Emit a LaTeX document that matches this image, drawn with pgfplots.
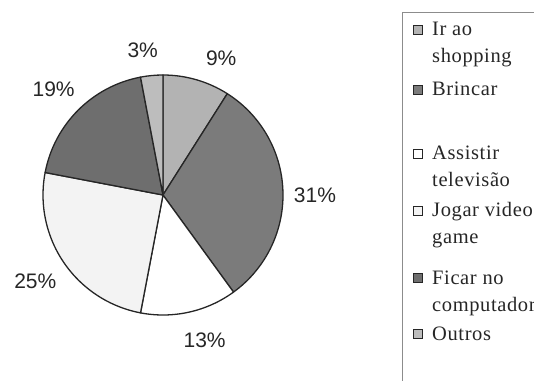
\documentclass[border=0pt]{standalone}
\usepackage{pgfplots}
\pgfplotsset{compat=1.18}
\usepackage{pgfplotstable}
\usepackage{fontspec}
\setmainfont{Liberation Serif}
\newfontfamily\pctfont{Liberation Sans}
\newfontfamily\keyfont[LetterSpace=3]{Liberation Serif}

\definecolor{shopfill}{HTML}{B3B3B3}
\definecolor{brincarfill}{HTML}{7B7B7B}
\definecolor{tvfill}{HTML}{FFFFFF}
\definecolor{gamefill}{HTML}{F3F3F3}
\definecolor{pcfill}{HTML}{6E6E6E}
\definecolor{outrosfill}{HTML}{BDBDBD}
\definecolor{edge}{HTML}{262626}

% share in percent, slice colour, label direction (deg) and distance (pt)
\pgfplotstableread{
share slicefill   labelangle labelradius
9     shopfill    67         149
31    brincarfill 0          152
13    tvfill      -74        151
25    gamefill    -146       154
19    pcfill      136        152
3     outrosfill  98         146
}\piedata

\begin{document}
\begin{tikzpicture}[x=1pt,y=1pt]
\useasboundingbox (0,0) rectangle (534,380);
\begin{axis}[at={(0,0)}, anchor=south west, scale only axis,
  x=1pt, y=1pt, xmin=-163, xmax=371, ymin=-185, ymax=195,
  hide axis, clip=false, disabledatascaling]
\pgfplotsextra{%
  \gdef\startangle{90}%
  \pgfplotstableforeachcolumnelement{share}\of\piedata\as\share{%
    \pgfplotstablegetelem{\pgfplotstablerow}{slicefill}\of\piedata
    \let\slicefill\pgfplotsretval
    \pgfplotstablegetelem{\pgfplotstablerow}{labelangle}\of\piedata
    \let\labang\pgfplotsretval
    \pgfplotstablegetelem{\pgfplotstablerow}{labelradius}\of\piedata
    \let\labrad\pgfplotsretval
    \pgfmathsetmacro\stopangle{\startangle-3.6*\share}%
    \filldraw[fill=\slicefill, draw=edge, line width=1.3pt, line join=round]
      (axis cs:0,0) -- (axis cs:{120*cos(\startangle)},{120*sin(\startangle)})
      arc[start angle=\startangle, end angle=\stopangle, radius=120pt] -- cycle;
    \node[font={\pctfont\fontsize{21}{25}\selectfont}, text=black!85]
      at (axis cs:{\labrad*cos(\labang)},{\labrad*sin(\labang)}) {\share\%};
    \xdef\startangle{\stopangle}%
  }%
}
\end{axis}

% legend
\begin{scope}
\clip (0,0) rectangle (534,380);
\draw[draw=black!45, line width=0.8pt] (402.5,-5) rectangle (545,367.5);
\foreach \ya/\yb/\col/\la/\lb in {
  36/63/shopfill/Ir ao/shopping,
  96/0/brincarfill/Brincar/,
  160/187/tvfill/Assistir/televisão,
  217/244/gamefill/Jogar video/game,
  284/311/pcfill/Ficar no/computador,
  340/0/outrosfill/Outros/}{
  \filldraw[fill=\col, draw=edge, line width=0.9pt]
    (413.5,{380-\ya+1.5}) rectangle (422.5,{380-\ya+10.5});
  \node[anchor=base west, inner sep=0pt, text=black!85,
        font={\keyfont\fontsize{20.5}{24}\selectfont}] at (432,{380-\ya}) {\la};
  \node[anchor=base west, inner sep=0pt, text=black!85,
        font={\keyfont\fontsize{20.5}{24}\selectfont}] at (432,{380-\yb}) {\lb};
}
\end{scope}
\end{tikzpicture}
\end{document}
